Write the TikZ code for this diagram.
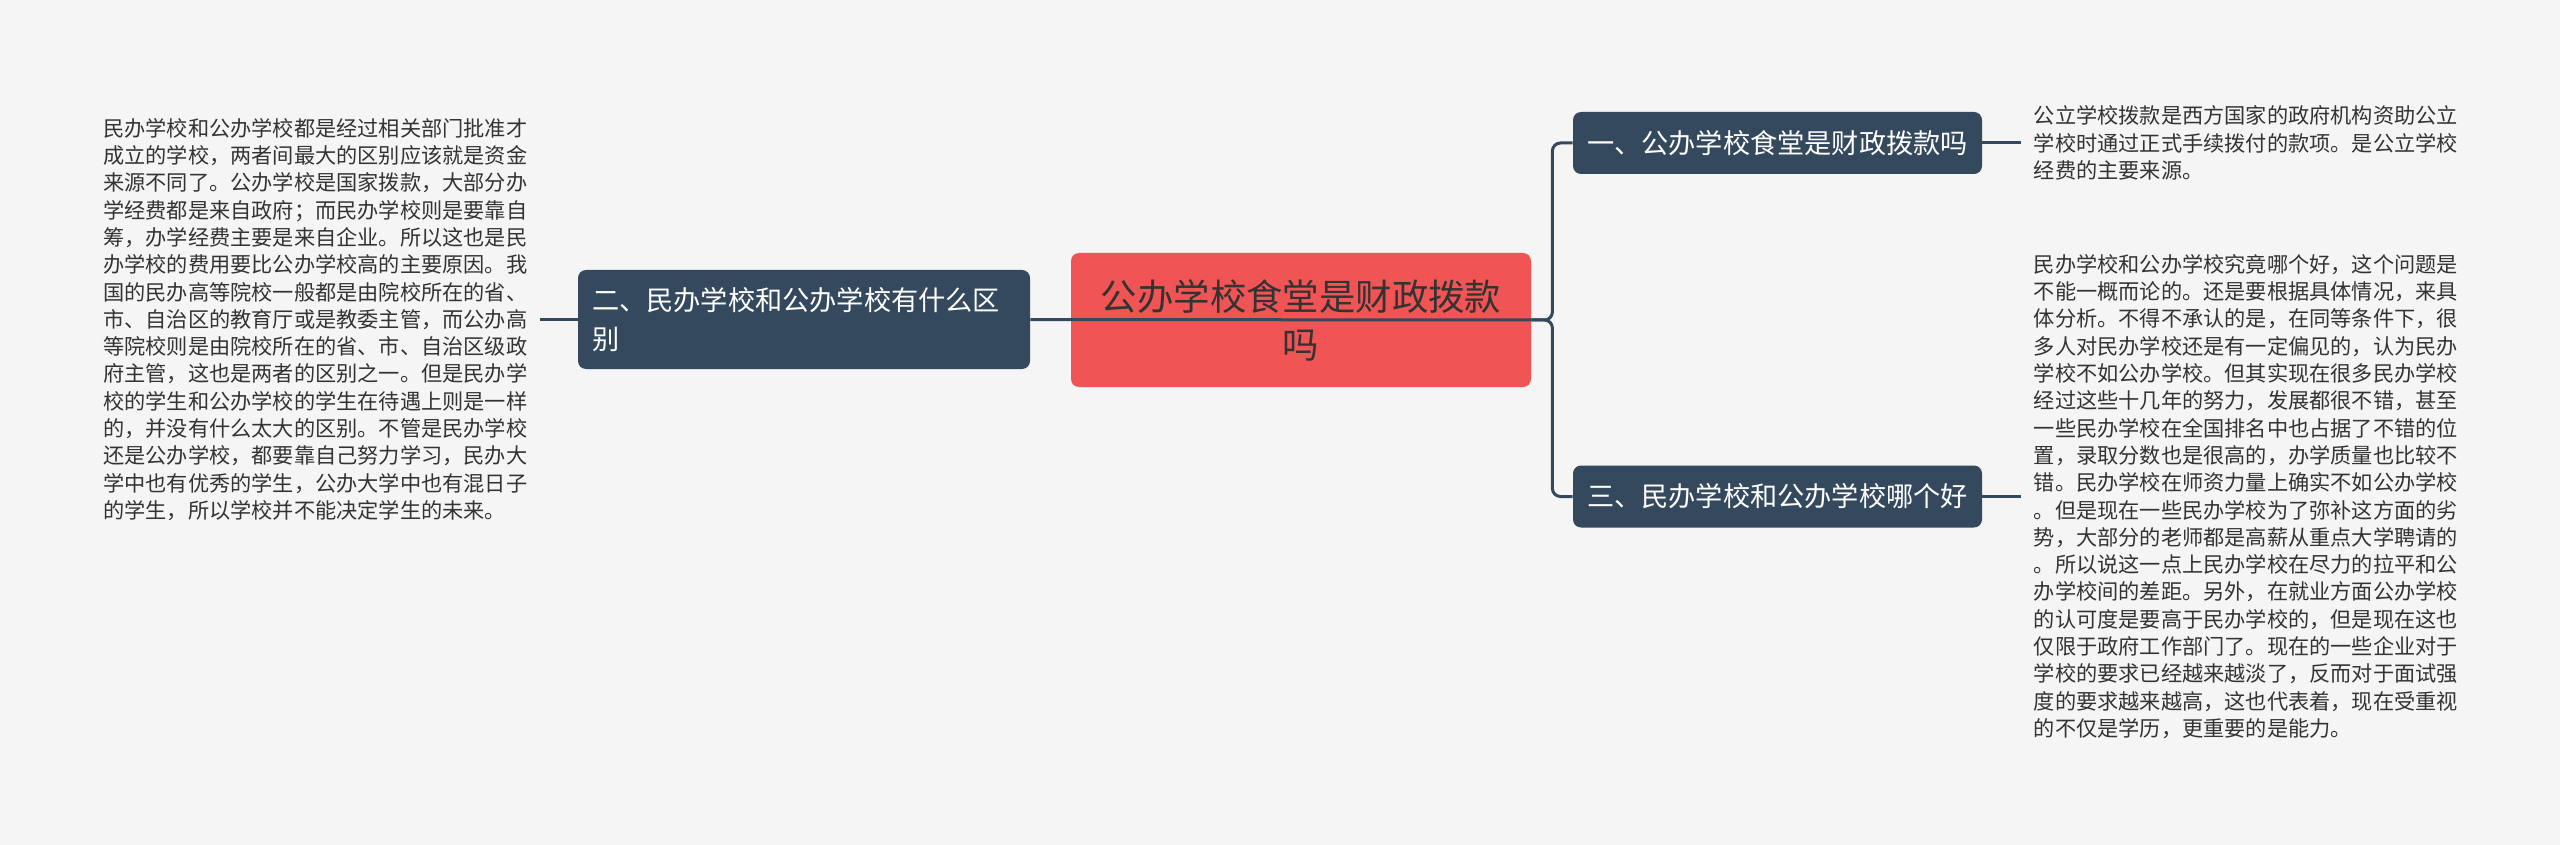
\documentclass[tikz,border=0pt]{standalone}
\usepackage{fontspec}
\setmainfont{Noto Sans CJK SC}
\usetikzlibrary{positioning}
\definecolor{bg}{HTML}{F5F5F5}
\definecolor{slate}{HTML}{34495E}
\definecolor{coral}{HTML}{F05454}
\definecolor{ink}{HTML}{333333}

\begin{document}
\begin{tikzpicture}[x=0.5pt,y=-0.5pt,
  subtopic/.style={fill=slate,rounded corners=4pt,text=white,font=\fontsize{13.6pt}{19.5pt}\selectfont,inner xsep=7pt,inner ysep=0pt,align=left},
  leaf/.style={inner xsep=6pt,inner ysep=0pt,align=left,text=ink,font=\fontsize{10.6pt}{13.65pt}\selectfont},
  link/.style={draw=slate,line width=1.5pt}]

  \fill[bg] (0,0) rectangle (2560,845);
  \useasboundingbox (0,0) rectangle (2560,845);

  % root topic
  \node[fill=coral,rounded corners=4pt,minimum width=230pt,minimum height=67pt,text width=210pt,align=center,text=ink,font=\fontsize{18.2pt}{24pt}\selectfont] at (1301,320) (root) {公办学校食堂是财政拨款\\吗};

  % subtopics
  \node[subtopic,minimum width=226pt,minimum height=49.5pt,text width=212pt] at (804,319.5) (diff) {二、民办学校和公办学校有什么区\\别};
  \node[subtopic,minimum width=204.5pt,minimum height=31pt] at (1777.5,143) (fund) {一、公办学校食堂是财政拨款吗};
  \node[subtopic,minimum width=204.5pt,minimum height=31pt] at (1777.5,496.5) (better) {三、民办学校和公办学校哪个好};

  % leaf texts
  \node[leaf,node distance=19pt,left=of diff] (difftext) {民办学校和公办学校都是经过相关部门批准才\\
成立的学校，两者间最大的区别应该就是资金\\
来源不同了。公办学校是国家拨款，大部分办\\
学经费都是来自政府；而民办学校则是要靠自\\
筹，办学经费主要是来自企业。所以这也是民\\
办学校的费用要比公办学校高的主要原因。我\\
国的民办高等院校一般都是由院校所在的省、\\
市、自治区的教育厅或是教委主管，而公办高\\
等院校则是由院校所在的省、市、自治区级政\\
府主管，这也是两者的区别之一。但是民办学\\
校的学生和公办学校的学生在待遇上则是一样\\
的，并没有什么太大的区别。不管是民办学校\\
还是公办学校，都要靠自己努力学习，民办大\\
学中也有优秀的学生，公办大学中也有混日子\\
的学生，所以学校并不能决定学生的未来。};

  \node[leaf,node distance=19.5pt,right=of fund] (fundtext) {公立学校拨款是西方国家的政府机构资助公立\\
学校时通过正式手续拨付的款项。是公立学校\\
经费的主要来源。};

  \node[leaf,node distance=19.5pt,right=of better] (bettertext) {民办学校和公办学校究竟哪个好，这个问题是\\
不能一概而论的。还是要根据具体情况，来具\\
体分析。不得不承认的是，在同等条件下，很\\
多人对民办学校还是有一定偏见的，认为民办\\
学校不如公办学校。但其实现在很多民办学校\\
经过这些十几年的努力，发展都很不错，甚至\\
一些民办学校在全国排名中也占据了不错的位\\
置，录取分数也是很高的，办学质量也比较不\\
错。民办学校在师资力量上确实不如公办学校\\
。但是现在一些民办学校为了弥补这方面的劣\\
势，大部分的老师都是高薪从重点大学聘请的\\
。所以说这一点上民办学校在尽力的拉平和公\\
办学校间的差距。另外，在就业方面公办学校\\
的认可度是要高于民办学校的，但是现在这也\\
仅限于政府工作部门了。现在的一些企业对于\\
学校的要求已经越来越淡了，反而对于面试强\\
度的要求越来越高，这也代表着，现在受重视\\
的不仅是学历，更重要的是能力。};

  % connectors
  \draw[link,rounded corners=4pt] (root.east) -- ++(21,0) |- (fund.west);
  \draw[link,rounded corners=4pt] (root.east) -- ++(21,0) |- (better.west);
  \draw[link] (diff.east) -- (root.east);
  \draw[link] (difftext.east) -- (diff.west);
  \draw[link] (fund.east) -- (fundtext.west);
  \draw[link] (better.east) -- (bettertext.west);

\end{tikzpicture}
\end{document}
